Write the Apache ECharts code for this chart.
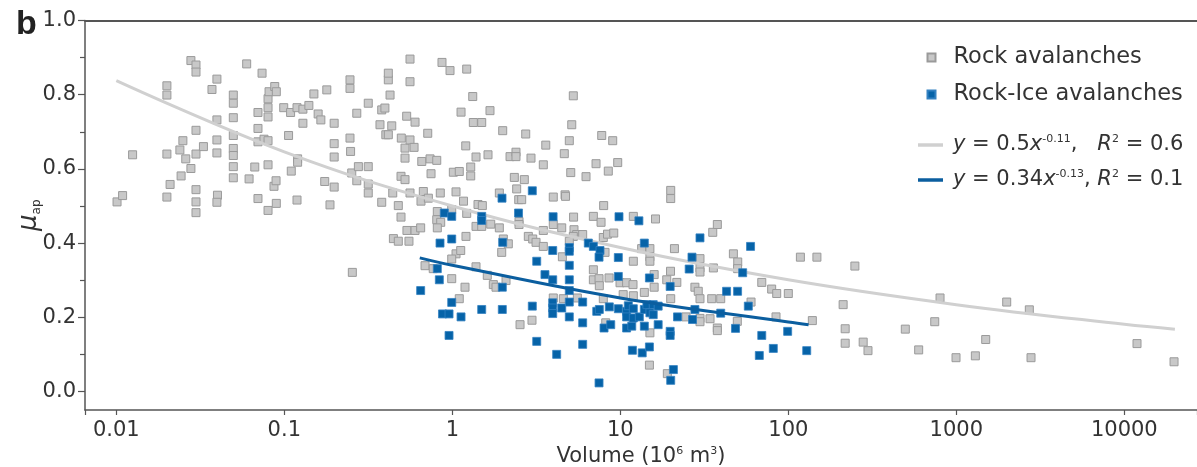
<!DOCTYPE html>
<html><head><meta charset="utf-8">
<script src="https://cdn.jsdelivr.net/npm/echarts@6/dist/echarts.min.js"></script>
<style>html,body{margin:0;padding:0;background:#fff}#c{width:1197px;height:467px}</style>
</head><body><div id="c"></div>
<script>
// ---- data (volume in 10^6 m^3, apparent friction coefficient) ----
const rockAvalanches = [[0.0101,0.511],[0.0109,0.528],[0.0125,0.638],[0.020,0.824],[0.020,0.799],[0.020,0.640],[0.020,0.524],[0.0209,0.558],[0.0239,0.651],[0.0243,0.581],[0.0249,0.676],[0.0259,0.627],[0.0278,0.892],[0.0278,0.601],[0.0298,0.880],[0.0298,0.861],[0.0298,0.704],[0.0298,0.640],[0.0298,0.544],[0.0298,0.511],[0.0298,0.482],[0.033,0.660],[0.0371,0.814],[0.0397,0.842],[0.0397,0.732],[0.0397,0.678],[0.0397,0.643],[0.040,0.529],[0.0397,0.510],[0.0497,0.799],[0.0497,0.777],[0.0497,0.738],[0.0497,0.690],[0.0497,0.655],[0.0497,0.636],[0.0497,0.606],[0.0497,0.576],[0.0597,0.883],[0.0617,0.573],[0.0667,0.605],[0.0697,0.752],[0.0697,0.709],[0.0697,0.673],[0.0697,0.520],[0.0737,0.858],[0.0757,0.680],[0.080,0.789],[0.080,0.765],[0.080,0.740],[0.080,0.676],[0.080,0.611],[0.080,0.488],[0.0811,0.808],[0.0877,0.822],[0.0896,0.808],[0.0868,0.553],[0.0893,0.568],[0.0896,0.507],[0.0992,0.765],[0.106,0.690],[0.109,0.752],[0.110,0.594],[0.119,0.765],[0.120,0.627],[0.120,0.618],[0.119,0.516],[0.129,0.723],[0.129,0.761],[0.140,0.771],[0.150,0.802],[0.159,0.748],[0.165,0.732],[0.174,0.566],[0.179,0.813],[0.187,0.503],[0.198,0.723],[0.198,0.668],[0.198,0.632],[0.198,0.551],[0.246,0.840],[0.246,0.817],[0.246,0.683],[0.248,0.647],[0.252,0.589],[0.254,0.321],[0.270,0.750],[0.270,0.568],[0.276,0.606],[0.316,0.777],[0.316,0.606],[0.316,0.559],[0.316,0.535],[0.371,0.719],[0.380,0.759],[0.380,0.510],[0.397,0.764],[0.402,0.692],[0.416,0.840],[0.416,0.858],[0.426,0.799],[0.436,0.716],[0.442,0.535],[0.416,0.692],[0.477,0.501],[0.446,0.412],[0.477,0.405],[0.552,0.405],[0.497,0.683],[0.523,0.656],[0.523,0.629],[0.495,0.580],[0.523,0.571],[0.535,0.742],[0.560,0.896],[0.560,0.835],[0.560,0.678],[0.592,0.658],[0.600,0.726],[0.560,0.535],[0.495,0.470],[0.537,0.434],[0.600,0.434],[0.648,0.441],[0.651,0.513],[0.658,0.620],[0.672,0.539],[0.714,0.696],[0.720,0.521],[0.737,0.627],[0.747,0.587],[0.808,0.623],[0.814,0.485],[0.808,0.463],[0.853,0.456],[0.814,0.441],[0.848,0.535],[0.868,0.887],[0.969,0.865],[0.992,0.490],[1.014,0.591],[1.10,0.593],[1.052,0.538],[1.052,0.371],[0.992,0.357],[0.992,0.304],[1.10,0.250],[1.122,0.380],[1.127,0.753],[1.166,0.513],[1.202,0.662],[1.218,0.869],[1.218,0.480],[1.206,0.418],[1.19,0.281],[1.287,0.605],[1.287,0.581],[1.323,0.795],[1.334,0.725],[1.384,0.632],[1.384,0.445],[1.384,0.336],[1.422,0.504],[1.496,0.725],[1.496,0.445],[1.509,0.501],[1.615,0.313],[1.631,0.638],[1.676,0.757],[1.693,0.451],[1.754,0.288],[1.82,0.281],[1.905,0.535],[1.905,0.441],[1.968,0.375],[2.012,0.411],[1.995,0.703],[2.088,0.299],[2.154,0.398],[2.206,0.633],[2.339,0.577],[2.393,0.645],[2.393,0.633],[2.416,0.546],[2.485,0.517],[2.588,0.517],[2.495,0.458],[2.495,0.450],[2.53,0.180],[2.683,0.571],[2.735,0.694],[2.834,0.418],[2.94,0.629],[2.98,0.192],[3.01,0.411],[3.15,0.402],[3.48,0.611],[3.48,0.434],[3.48,0.391],[3.60,0.664],[3.99,0.524],[3.99,0.450],[3.99,0.252],[4.52,0.363],[4.58,0.250],[4.48,0.441],[4.64,0.641],[4.69,0.530],[4.72,0.526],[4.97,0.676],[5.07,0.590],[5.14,0.719],[5.25,0.797],[5.27,0.470],[5.30,0.436],[5.50,0.423],[5.25,0.418],[4.97,0.405],[5.55,0.252],[5.97,0.423],[6.25,0.579],[6.91,0.472],[6.91,0.328],[6.91,0.301],[7.17,0.614],[7.47,0.304],[7.50,0.285],[7.68,0.456],[7.75,0.690],[7.96,0.501],[7.92,0.415],[7.92,0.250],[8.19,0.185],[8.11,0.375],[8.39,0.424],[8.57,0.306],[9.01,0.676],[9.14,0.427],[9.65,0.617],[8.48,0.594],[9.96,0.293],[10.9,0.293],[10.4,0.261],[11.95,0.258],[11.9,0.288],[11.95,0.351],[11.95,0.472],[13.4,0.385],[13.9,0.267],[15.0,0.385],[15.0,0.363],[15.0,0.351],[15.0,0.158],[14.9,0.071],[15.9,0.315],[15.9,0.281],[16.2,0.465],[18.9,0.301],[19.05,0.048],[19.9,0.324],[19.95,0.542],[19.95,0.520],[19.95,0.250],[21.0,0.385],[21.7,0.294],[24.6,0.201],[27.8,0.281],[29.1,0.270],[29.8,0.358],[29.8,0.333],[29.8,0.322],[29.8,0.250],[29.8,0.197],[29.8,0.188],[34.2,0.196],[35.0,0.250],[35.5,0.429],[35.8,0.333],[37.8,0.450],[37.8,0.171],[37.8,0.164],[39.6,0.250],[47.1,0.371],[50.0,0.349],[49.9,0.331],[49.7,0.189],[60.0,0.241],[69.5,0.294],[79.6,0.276],[85.3,0.264],[84.5,0.201],[100,0.264],[118,0.362],[139,0.191],[148,0.362],[212,0.234],[218,0.169],[218,0.130],[249,0.338],[279,0.133],[298,0.110],[497,0.168],[597,0.112],[744,0.188],[800,0.252],[996,0.091],[1298,0.096],[1496,0.140],[1995,0.241],[2720,0.220],[2784,0.091],[11900,0.129],[19770,0.080],[0.688,0.339],[0.770,0.331]];

const rockIceAvalanches = [[0.648,0.272],[0.814,0.331],[0.837,0.301],[0.845,0.400],[0.896,0.481],[0.992,0.472],[0.992,0.411],[0.992,0.240],[0.874,0.209],[0.956,0.209],[1.127,0.201],[0.956,0.151],[1.496,0.472],[1.496,0.461],[1.496,0.221],[1.984,0.281],[1.995,0.402],[1.984,0.221],[2.478,0.481],[2.993,0.541],[1.976,0.521],[3.98,0.471],[2.993,0.230],[3.18,0.351],[3.18,0.135],[3.56,0.315],[3.96,0.380],[3.96,0.301],[3.96,0.239],[3.96,0.225],[3.96,0.210],[4.18,0.100],[4.48,0.225],[4.97,0.388],[4.97,0.378],[4.97,0.340],[4.97,0.301],[4.97,0.272],[4.97,0.241],[4.97,0.201],[5.97,0.241],[5.97,0.185],[5.97,0.127],[6.45,0.400],[6.91,0.391],[7.57,0.380],[7.47,0.362],[7.24,0.216],[7.50,0.221],[7.47,0.023],[8.00,0.171],[8.77,0.180],[8.60,0.228],[9.73,0.223],[9.82,0.471],[9.73,0.361],[9.73,0.310],[10.9,0.216],[10.9,0.201],[10.9,0.171],[11.16,0.231],[11.7,0.176],[11.95,0.223],[11.95,0.198],[11.8,0.111],[12.9,0.460],[12.98,0.201],[13.5,0.104],[14.9,0.120],[13.9,0.400],[13.9,0.221],[13.9,0.176],[14.4,0.234],[14.9,0.306],[15.0,0.212],[15.7,0.234],[15.7,0.207],[16.8,0.230],[16.8,0.180],[19.8,0.283],[19.8,0.162],[19.8,0.151],[20.7,0.059],[19.95,0.030],[21.9,0.201],[25.7,0.330],[26.7,0.362],[26.9,0.194],[27.8,0.221],[29.8,0.414],[39.6,0.211],[42.9,0.270],[49.9,0.270],[48.5,0.170],[53.5,0.320],[57.8,0.230],[59.6,0.391],[67.2,0.097],[69.5,0.151],[81.4,0.116],[99.1,0.162],[128.7,0.110]];

// fitted power-law curves
const rockFit = [[0.01,0.838],[0.1,0.646],[1,0.500],[10,0.388],[100,0.301],[1000,0.234],[10000,0.181],[20000,0.168]];
const rockIceFit = [[0.64,0.360],[1,0.340],[10,0.252],[100,0.187],[132,0.180]];

const seriesNames = ['Rock avalanches', 'Rock-Ice avalanches', 'rockFit', 'rockIceFit'];
const fitLabels = {
  rockFit: '{i|y} = 0.5{i|x}{sup|-0.11},   {i|R}{sup|2} = 0.6',
  rockIceFit: '{i|y} = 0.34{i|x}{sup|-0.13}, {i|R}{sup|2} = 0.1'
};
const xTickLabels = ['0.01', '0.1', '1', '10', '100', '1000', '10000']; // exponents -2..4
const yTickValues = [0.0, 0.2, 0.4, 0.6, 0.8, 1.0];
const yTickLabels = ['0.0', '0.2', '0.4', '0.6', '0.8', '1.0'];
const yMinorTickValues = [0.1, 0.3, 0.5, 0.7, 0.9];
const xRange = [0.00651, 27080];
const yRange = [-0.05, 1.0];

const FONT = '"DejaVu Sans", "Liberation Sans", Arial, sans-serif';
const AX = '#555555';
const TXT = '#333333';

const chart = echarts.init(document.getElementById('c'), null, {renderer: 'canvas', width: 1197, height: 467});

function xFmt(v) {
  const e = Math.log10(v);
  if (Math.abs(e - Math.round(e)) > 1e-6) return '';
  const idx = Math.round(e) + 2;
  return xTickLabels[idx] || '';
}
function yFmt(v) {
  const k = Math.round(v * 5);
  if (Math.abs(v * 5 - k) > 1e-6) return '';
  return yTickLabels[k] || '';
}
const rich = {
  i: {fontStyle: 'italic', fontSize: 21, fontFamily: FONT, color: TXT, lineHeight: 22},
  sup: {fontSize: 11, fontFamily: FONT, color: TXT, verticalAlign: 'top', lineHeight: 22}
};

const option = {
  backgroundColor: '#ffffff',
  animation: false,
  textStyle: {fontFamily: FONT},
  grid: {left: 85, right: 0, top: 20.5, bottom: 57, containLabel: false, outerBoundsMode: 'none'},
  xAxis: [{
    type: 'log', logBase: 10, min: xRange[0], max: xRange[1],
    axisLine: {show: true, onZero: false, lineStyle: {color: AX, width: 1.5}},
    axisTick: {show: true, inside: false, length: 5, lineStyle: {color: AX, width: 1.2}},
    axisLabel: {show: true, margin: 10, fontSize: 21, color: TXT, fontFamily: FONT, formatter: xFmt, hideOverlap: false},
    splitLine: {show: false}, minorTick: {show: false}, minorSplitLine: {show: false},
    name: 'Volume (10{sup|6} m{sup|3})', nameLocation: 'middle', nameGap: 36, nameMoveOverlap: false,
    nameTextStyle: {fontSize: 21, color: TXT, fontFamily: FONT, lineHeight: 22,
      rich: {sup: {fontSize: 11, fontFamily: FONT, color: TXT, verticalAlign: 'top', lineHeight: 22}}}
  }, {
    type: 'log', logBase: 10, min: xRange[0], max: xRange[1], position: 'top',
    axisLine: {show: true, onZero: false, lineStyle: {color: AX, width: 1.8}},
    axisTick: {show: false}, axisLabel: {show: false}, splitLine: {show: false}
  }],
  yAxis: [{
    type: 'value', min: yRange[0], max: yRange[1],
    axisLine: {show: true, onZero: false, lineStyle: {color: AX, width: 1.5}},
    axisTick: {show: true, inside: false, length: 7, customValues: yTickValues, lineStyle: {color: AX, width: 1.2}},
    minorTick: {show: false},
    axisLabel: {show: true, margin: 9, fontSize: 21, color: TXT, fontFamily: FONT, customValues: yTickValues, formatter: yFmt},
    splitLine: {show: false},
    name: '{mu|μ}{sub|ap}', nameLocation: 'middle', nameRotate: 90, nameGap: 42, nameMoveOverlap: false,
    nameTextStyle: {color: TXT, fontFamily: FONT,
      rich: {
        mu: {fontSize: 26, fontStyle: 'italic', fontFamily: FONT, color: TXT, lineHeight: 28},
        sub: {fontSize: 12, fontFamily: FONT, color: TXT, verticalAlign: 'bottom', lineHeight: 28}
      }}
  }, {
    type: 'value', min: yRange[0], max: yRange[1], position: 'left', offset: 0, alignTicks: false,
    axisLine: {show: false, onZero: false},
    axisTick: {show: true, inside: false, length: 5, customValues: yMinorTickValues, lineStyle: {color: AX, width: 1.2}},
    axisLabel: {show: false}, splitLine: {show: false}, minorTick: {show: false}
  }],
  legend: [{
    data: [seriesNames[0], seriesNames[1]], orient: 'vertical', left: 926.5, top: 46, padding: 0,
    itemWidth: 8, itemHeight: 8, itemGap: 14, icon: 'rect', selectedMode: false,
    textStyle: {fontSize: 22.5, color: TXT, fontFamily: FONT, lineHeight: 22, padding: [0, 0, 0, 13]}
  }, {
    data: [seriesNames[2], seriesNames[3]], orient: 'vertical', left: 918, top: 134, padding: 0,
    itemWidth: 25, itemHeight: 3.5, itemGap: 13, icon: 'rect', selectedMode: false,
    formatter: function (name) { return fitLabels[name]; },
    textStyle: {fontSize: 21, color: TXT, fontFamily: FONT, lineHeight: 22, padding: [0, 0, 0, 5], rich: rich}
  }],
  graphic: [{
    type: 'text', left: 16, top: 8,
    style: {text: 'b', fontSize: 34, fontWeight: 'bold', fontFamily: '"Liberation Sans", Arial, sans-serif', fill: '#222'}
  }],
  series: [{
    name: seriesNames[0], type: 'scatter', data: rockAvalanches,
    symbol: 'rect', symbolSize: 8, z: 2,
    itemStyle: {color: '#c8c8c8', borderColor: '#9a9a9a', borderWidth: 1, opacity: 1}
  }, {
    name: seriesNames[2], type: 'line', data: rockFit, smooth: 0.4,
    symbol: 'none', showSymbol: false, z: 3,
    lineStyle: {color: '#d0d0d0', width: 3}, itemStyle: {color: '#d0d0d0'}
  }, {
    name: seriesNames[1], type: 'scatter', data: rockIceAvalanches,
    symbol: 'rect', symbolSize: 8, z: 4,
    itemStyle: {color: '#0663a8', borderColor: '#3482c2', borderWidth: 0.8, opacity: 1}
  }, {
    name: seriesNames[3], type: 'line', data: rockIceFit, smooth: 0.4,
    symbol: 'none', showSymbol: false, z: 5,
    lineStyle: {color: '#0b5e9f', width: 3}, itemStyle: {color: '#0b5e9f'}
  }]
};
chart.setOption(option);
</script>
</body></html>
